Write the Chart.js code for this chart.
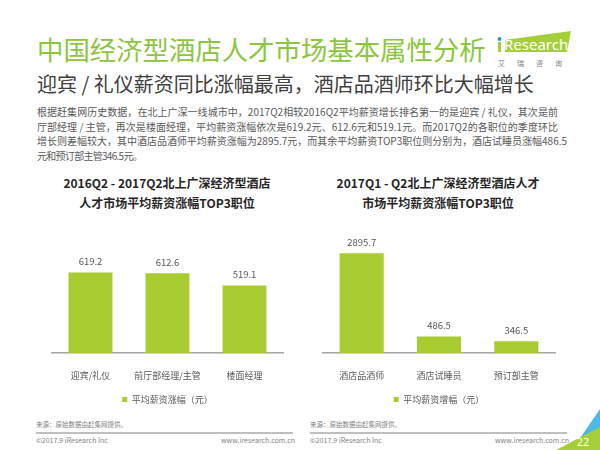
<!DOCTYPE html>
<html>
<head>
<meta charset="utf-8">
<script src="https://cdn.jsdelivr.net/npm/chart.js@4"></script>
<style>
body{margin:0;width:600px;height:450px;background:#fff;position:relative;overflow:hidden;font-family:"Noto Sans CJK SC","Noto Sans",sans-serif}
.abs{position:absolute;white-space:nowrap}
#title{left:37px;top:34px;font-size:26.4px;line-height:30px;color:#8cc63e}
#subtitle{left:37px;top:72px;font-size:20px;line-height:24px;color:#404040}
#para{left:37px;top:105px;font-size:10px;line-height:14.5px;color:#595959}
#para span{display:inline-block}
.ctitle{font-size:12px;line-height:20px;font-weight:bold;color:#262626;text-align:center;transform:translateX(-50%)}
.source{font-size:6.5px;color:#7f7f7f}
.foot{font-size:7px;color:#7f7f7f}
.rule{height:2px;background:#bfbfbf}
</style>
</head>
<body>
<div class="abs" id="title">中国经济型酒店人才市场基本属性分析</div>
<div class="abs" id="subtitle">迎宾 / 礼仪薪资同比涨幅最高，酒店品酒师环比大幅增长</div>
<div class="abs" id="para"><span data-w="521">根据赶集网历史数据，在北上广深一线城市中，2017Q2相较2016Q2平均薪资增长排名第一的是迎宾 / 礼仪，其次是前</span><br><span data-w="521">厅部经理 / 主管，再次是楼面经理，平均薪资涨幅依次是619.2元、612.6元和519.1元。而2017Q2的各职位的季度环比</span><br><span data-w="530">增长则差幅较大，其中酒店品酒师平均薪资涨幅为2895.7元，而其余平均薪资TOP3职位则分别为，酒店试睡员涨幅486.5</span><br><span data-w="105">元和预订部主管346.5元。</span></div>

<!-- logo -->
<svg class="abs" style="left:494px;top:28px" width="84" height="42">
  <polygon points="11,12 77,3 73,24 11,24" fill="#a6ce39"/>
  <circle cx="5.5" cy="11" r="1.9" fill="#1f9bd7"/>
  <rect x="4" y="14" width="3" height="10" fill="#a6ce39"/>
  <text x="10" y="22" font-size="15" fill="#fff" font-family="Noto Sans">Research</text>
  <text x="4" y="38" font-size="7" fill="#7f7f7f" letter-spacing="12">艾瑞咨询</text>
</svg>

<div class="abs ctitle" style="left:167px;top:173px">2016Q2 - 2017Q2北上广深经济型酒店<br>人才市场平均薪资涨幅TOP3职位</div>
<div class="abs ctitle" style="left:438px;top:173px">2017Q1 - Q2北上广深经济型酒店人才<br>市场平均薪资涨幅TOP3职位</div>

<div class="abs" style="left:40px;top:230px;width:255px;height:184px"><canvas id="leftChart"></canvas></div>
<div class="abs" style="left:311px;top:230px;width:256px;height:184px"><canvas id="rightChart"></canvas></div>

<div class="abs source" style="left:36px;top:419px">来源：原始数据由赶集网提供。</div>
<div class="abs source" style="left:310px;top:419px">来源：原始数据由赶集网提供。</div>
<div class="abs rule" style="left:36px;top:432px;width:257px"></div>
<div class="abs rule" style="left:310px;top:432px;width:257px"></div>
<div class="abs foot" style="left:36px;top:435px">©2017.9 iResearch Inc</div>
<div class="abs foot" style="left:221px;top:435px;width:72px;text-align:right">www.iresearch.com.cn</div>
<div class="abs foot" style="left:310px;top:435px">©2017.9 iResearch Inc</div>
<div class="abs foot" style="left:495px;top:435px;width:72px;text-align:right">www.iresearch.com.cn</div>

<svg class="abs" style="left:550px;top:405px" width="50" height="45">
  <polygon points="50,4 50,45 22,45" fill="#4cb8e8"/>
  <polygon points="50,22 50,45 6,45" fill="#a6ce39"/>
  <text x="33" y="41" font-size="11" fill="#fff" text-anchor="middle" font-family="Noto Sans">22</text>
</svg>

<script>
// 数据
const leftCategories = ['迎宾/礼仪', '前厅部经理/主管', '楼面经理'];
const leftValues = [619.2, 612.6, 519.1];
const leftSeries = '平均薪资涨幅（元）';

const rightCategories = ['酒店品酒师', '酒店试睡员', '预订部主管'];
const rightValues = [2895.7, 486.5, 346.5];
const rightSeries = '平均薪资增幅（元）';

const barColor = '#a9cc33';
const fontFamily = '"Noto Sans CJK SC", "Noto Sans", sans-serif';

// 段落每行撑到原图宽度
document.querySelectorAll('#para span').forEach(line => {
    const target = +line.dataset.w;
    const n = line.textContent.length;
    const w = line.getBoundingClientRect().width;
    line.style.letterSpacing = ((target - w) / n) + 'px';
});

// 柱顶数值
const valueLabels = {
    id: 'valueLabels',
    afterDatasetsDraw(chart) {
        const ctx = chart.ctx;
        const meta = chart.getDatasetMeta(0);
        ctx.save();
        ctx.font = '9.5px ' + fontFamily;
        ctx.fillStyle = '#595959';
        ctx.textAlign = 'center';
        ctx.textBaseline = 'middle';
        meta.data.forEach((bar, i) => {
            ctx.fillText(chart.data.datasets[0].data[i].toFixed(1), bar.x, bar.y - 11);
        });
        ctx.restore();
    }
};

function makeChart(id, labels, values, series, yMax) {
    return new Chart(document.getElementById(id), {
        type: 'bar',
        data: {
            labels: labels,
            datasets: [{
                label: series,
                data: values,
                backgroundColor: barColor,
                categoryPercentage: 1,
                barPercentage: 0.57
            }]
        },
        options: {
            responsive: true,
            maintainAspectRatio: false,
            animation: false,
            layout: { padding: { top: 20, left: 12, right: 12, bottom: 0 } },
            plugins: {
                legend: {
                    position: 'bottom',
                    labels: {
                        boxWidth: 5,
                        boxHeight: 5,
                        padding: 5,
                        color: '#595959',
                        font: { size: 9, family: fontFamily }
                    }
                },
                tooltip: { enabled: false }
            },
            scales: {
                x: {
                    grid: { display: false },
                    border: { color: '#a6a6a6', width: 1.5 },
                    ticks: { color: '#595959', padding: 9, font: { size: 9, family: fontFamily } }
                },
                y: { display: false, min: 0, max: yMax }
            }
        },
        plugins: [valueLabels]
    });
}

makeChart('leftChart', leftCategories, leftValues, leftSeries, 791);
makeChart('rightChart', rightCategories, rightValues, rightSeries, 2990);
</script>
</body>
</html>
